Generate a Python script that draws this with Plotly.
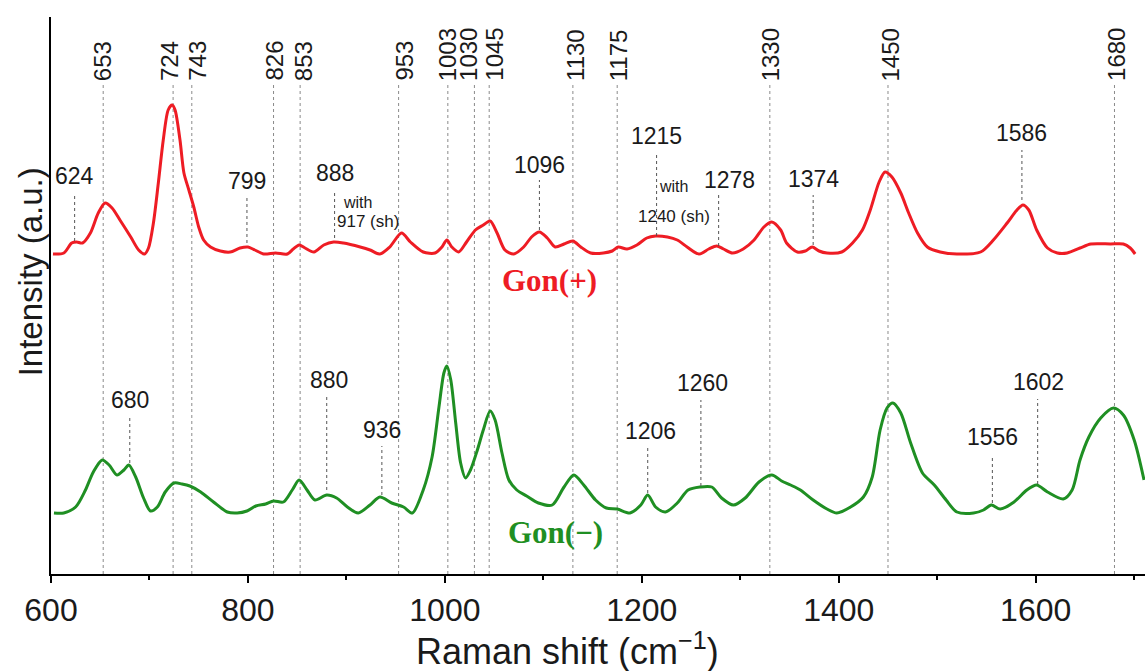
import plotly.graph_objects as go

# Raman spectra, Gon(+) (upper trace) and Gon(-) (lower trace), offset in a.u.
gon_pos_shift = [602, 613, 621, 626, 632, 640, 648, 655, 662, 670, 681, 689, 695, 699, 704, 709,
                 714, 719, 723, 726, 731, 735, 740, 745, 750, 755, 762, 772, 782, 792, 800, 807,
                 816, 828, 840, 846, 852, 858, 867, 877, 887, 897, 914, 924, 934, 944, 956, 965,
                 978, 990, 997, 1002, 1007, 1014, 1022, 1031, 1039, 1046, 1053, 1061, 1070, 1080,
                 1088, 1096, 1104, 1112, 1121, 1130, 1138, 1148, 1161, 1170, 1176, 1185, 1195,
                 1205, 1214, 1226, 1236, 1246, 1258, 1268, 1276, 1283, 1292, 1303, 1314, 1324,
                 1332, 1341, 1347, 1358, 1366, 1373, 1380, 1388, 1403, 1414, 1424, 1432, 1441,
                 1447, 1454, 1463, 1471, 1480, 1490, 1503, 1520, 1544, 1557, 1571, 1581, 1587,
                 1593, 1601, 1612, 1622, 1632, 1645, 1656, 1676, 1689, 1696, 1701]
gon_pos_int = [320, 321, 331, 332, 331, 341, 361, 371, 366, 354, 337, 324, 320, 326, 351, 391,
               434, 464, 469, 464, 434, 401, 384, 367, 347, 334, 327, 323, 322, 326, 327, 324,
               320, 321, 320, 325, 329, 326, 322, 329, 332, 331, 327, 324, 320, 327, 341, 332,
               322, 321, 327, 334, 327, 322, 332, 344, 349, 353, 341, 324, 320, 327,
               337, 342, 336, 327, 330, 333, 327, 321, 321, 323, 327, 325, 329,
               336, 338, 337, 334, 327, 320, 325, 328, 325, 321, 325, 334, 347,
               352, 344, 331, 322, 323, 327, 323, 321, 322, 331, 344, 364, 392,
               402, 397, 381, 361, 341, 327, 322, 320, 322, 334, 351, 364, 369,
               364, 344, 326, 321, 321, 326, 330, 330, 330, 326, 320]

gon_neg_shift = [603, 613, 625, 635, 643, 652, 659, 667, 674, 679, 686, 694, 701, 708, 716, 725,
                 733, 741, 752, 765, 779, 789, 799, 808, 818, 826, 836, 845, 852, 860, 868, 880,
                 890, 901, 912, 924, 934, 946, 958, 967, 978, 987, 994, 999, 1002, 1006, 1011,
                 1016, 1021, 1026, 1033, 1039, 1046, 1051, 1058, 1065, 1073, 1083, 1095, 1109,
                 1121, 1131, 1141, 1153, 1164, 1175, 1188, 1199, 1206, 1214, 1224, 1236, 1247,
                 1259, 1271, 1281, 1293, 1305, 1319, 1332, 1342, 1351, 1361, 1374, 1388, 1398,
                 1412, 1425, 1434, 1442, 1449, 1455, 1463, 1473, 1485, 1497, 1509, 1520, 1537,
                 1547, 1555, 1564, 1578, 1591, 1601, 1612, 1628, 1637, 1645, 1654, 1666, 1679,
                 1689, 1700, 1710]
gon_neg_int = [61, 61, 67, 84, 102, 114, 109, 99, 104, 109, 97, 76, 63, 67, 82, 91,
               90, 88, 82, 72, 62, 61, 63, 68, 70, 73, 72, 84, 94, 84, 74, 79,
               76, 67, 61, 69, 77, 71, 67, 61, 84, 117, 167, 201, 208, 194, 151,
               111, 96, 104, 124, 144, 163, 154, 121, 94, 84, 78, 71, 69,
               87, 99, 89, 74, 66, 65, 61, 69, 79, 67, 62, 71, 84,
               87, 87, 76, 69, 76, 92, 99, 93, 89, 84, 74, 65, 61,
               67, 77, 97, 144, 166, 171, 161, 131, 101, 89, 74, 62, 61,
               64, 69, 65, 72, 84, 89, 82, 75, 84, 114, 137, 156, 166,
               159, 134, 94]

# Bands marked with full-height guide lines and vertical labels
guide_bands = [653, 724, 743, 826, 853, 953, 1003, 1030, 1045, 1130, 1175, 1330, 1450, 1680]
# sideways nudge (px) so crowded vertical labels do not collide
guide_label_nudge = [-1, -4, 5, 0, 3, 5, 0, -6, 5, 2, 1, 1, 3, 2]

# Individually labelled bands: label, text position, dotted stub position and extent
pos_labels = ["624", "799", "888", "1096", "1215", "1278", "1374", "1586"]
pos_text_x = [624, 799, 888, 1096, 1215, 1289, 1374, 1586]
pos_text_y = [398, 393, 401, 409, 438, 394, 395, 441]
pos_stub_x = [624, 799, 888, 1096, 1215, 1278, 1374, 1586]
pos_stub_top = [381, 378, 384, 394, 422, 379, 379, 424]
pos_stub_bot = [333, 331, 336, 344, 338, 328, 329, 374]

neg_labels = ["680", "880", "936", "1206", "1260", "1556", "1602"]
neg_text_x = [680, 882, 936, 1209, 1262, 1556, 1603]
neg_text_y = [174, 194, 144, 143, 191, 137, 192]
neg_stub_x = [680, 880, 936, 1206, 1260, 1556, 1602]
neg_stub_top = [158, 177, 128, 127, 174, 119, 175]
neg_stub_bot = [111, 84, 79, 81, 88, 71, 90]

# Shoulder notes: first line, second line, x of each line, y of each line
shoulder_notes = [("with", "917 (sh)", 911, 922, 372, 353),
                  ("with", "1240 (sh)", 1232, 1233, 388, 358)]

RED = "#ee1c24"
GREEN = "#1f8f23"
INK = "#1a1a1a"
SANS = "Liberation Sans, Arial, sans-serif"
SERIF = "Liberation Serif, Times New Roman, serif"

fig = go.Figure()
fig.add_trace(go.Scatter(x=gon_pos_shift, y=gon_pos_int, mode="lines",
                         line=dict(color=RED, width=3, shape="spline", smoothing=0.8),
                         name="Gon(+)", showlegend=False, hoverinfo="skip"))
fig.add_trace(go.Scatter(x=gon_neg_shift, y=gon_neg_int, mode="lines",
                         line=dict(color=GREEN, width=3, shape="spline", smoothing=0.8),
                         name="Gon(-)", showlegend=False, hoverinfo="skip"))

shapes = []
annotations = []
guide_style = dict(color="#8a8a8a", width=1, dash="dot")
stub_style = dict(color="#555555", width=1, dash="dot")

for b, nudge in zip(guide_bands, guide_label_nudge):
    shapes.append(dict(type="line", xref="x", yref="y", x0=b, x1=b, y0=0, y1=489,
                       line=guide_style, layer="below"))
    annotations.append(dict(x=b, y=492, xref="x", yref="y", text=str(b), textangle=-90,
                            showarrow=False, xanchor="center", yanchor="bottom",
                            xshift=nudge, borderpad=0,
                            font=dict(family=SANS, size=24, color=INK)))

for lab, tx, ty, sx, s0, s1 in zip(pos_labels, pos_text_x, pos_text_y, pos_stub_x,
                                    pos_stub_top, pos_stub_bot):
    annotations.append(dict(x=tx, y=ty, xref="x", yref="y", text=lab, showarrow=False,
                            xanchor="center", yanchor="middle",
                            font=dict(family=SANS, size=23, color=INK)))
    shapes.append(dict(type="line", xref="x", yref="y", x0=sx, x1=sx, y0=s1, y1=s0,
                       line=stub_style))

for lab, tx, ty, sx, s0, s1 in zip(neg_labels, neg_text_x, neg_text_y, neg_stub_x,
                                    neg_stub_top, neg_stub_bot):
    annotations.append(dict(x=tx, y=ty, xref="x", yref="y", text=lab, showarrow=False,
                            xanchor="center", yanchor="middle",
                            font=dict(family=SANS, size=23, color=INK)))
    shapes.append(dict(type="line", xref="x", yref="y", x0=sx, x1=sx, y0=s1, y1=s0,
                       line=stub_style))

for l1, l2, x1, x2, y1, y2 in shoulder_notes:
    annotations.append(dict(x=x1, y=y1, xref="x", yref="y", text=l1, showarrow=False,
                            xanchor="center", yanchor="middle", borderpad=0,
                            font=dict(family=SANS, size=16, color=INK)))
    annotations.append(dict(x=x2, y=y2, xref="x", yref="y", text=l2, showarrow=False,
                            xanchor="center", yanchor="middle", borderpad=0,
                            font=dict(family=SANS, size=17, color=INK)))

# Series names
annotations.append(dict(x=1106, y=294, xref="x", yref="y", text="<b>Gon(+)</b>",
                        showarrow=False, xanchor="center", yanchor="middle",
                        font=dict(family=SERIF, size=31, color=RED)))
annotations.append(dict(x=1112, y=42, xref="x", yref="y", text="<b>Gon(\u2212)</b>",
                        showarrow=False, xanchor="center", yanchor="middle",
                        font=dict(family=SERIF, size=31, color=GREEN)))

# Axis titles
annotations.append(dict(x=0.472, y=-0.135, xref="paper", yref="paper",
                        text="Raman shift (cm<sup>\u22121</sup>)", showarrow=False,
                        xanchor="center", yanchor="middle",
                        font=dict(family=SANS, size=36, color=INK)))
annotations.append(dict(x=-0.019, y=0.542, xref="paper", yref="paper",
                        text="Intensity (a.u.)", textangle=-90, showarrow=False,
                        xanchor="center", yanchor="middle",
                        font=dict(family=SANS, size=33, color=INK)))

fig.update_layout(
    width=1145, height=671,
    margin=dict(l=51, r=0, t=17, b=97),
    paper_bgcolor="white", plot_bgcolor="white",
    shapes=shapes, annotations=annotations,
    showlegend=False,
    xaxis=dict(range=[600, 1711], tickvals=[600, 800, 1000, 1200, 1400, 1600],
               ticks="outside", ticklen=7, tickwidth=1.5, tickcolor="black",
               minor=dict(tickvals=[700, 900, 1100, 1300, 1500, 1700], ticks="outside",
                          ticklen=4, tickwidth=1.5, tickcolor="black"),
               showline=True, linecolor="black", linewidth=1.5, showgrid=False,
               zeroline=False, tickfont=dict(family=SANS, size=32, color=INK)),
    yaxis=dict(range=[0, 557], showticklabels=False, ticks="", showline=True,
               linecolor="black", linewidth=1.5, showgrid=False, zeroline=False),
)

fig.write_html("out.html")
